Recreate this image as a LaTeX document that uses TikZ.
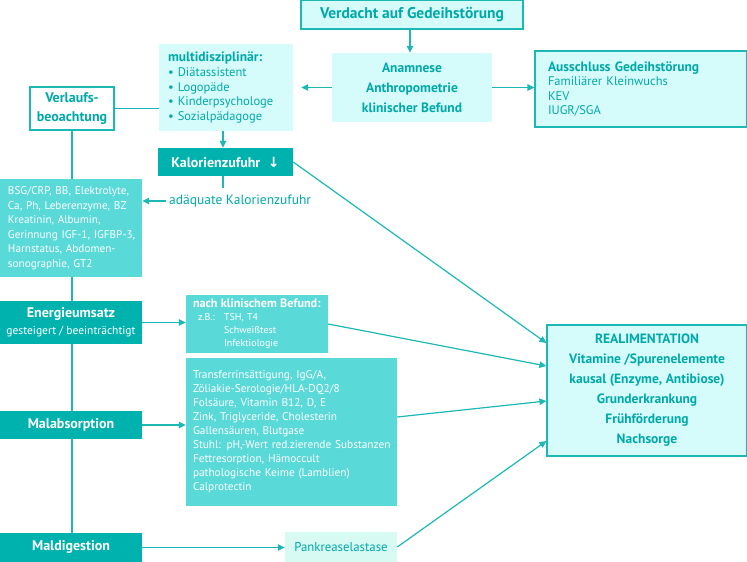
\documentclass[tikz,border=0pt]{standalone}
\usepackage{amsmath,amssymb}
\usepackage{fontspec}
\setmainfont{PT Sans}
\newfontfamily\pfeilschrift{DejaVu Sans}
\usetikzlibrary{arrows.meta,calc,positioning}

\definecolor{dunkel}{HTML}{00B2AE}
\definecolor{mittel}{HTML}{5AD9D9}
\definecolor{hell}{HTML}{D6FBFB}
\definecolor{mint}{HTML}{D7FAF2}
\definecolor{tuerkis}{HTML}{1BB8B6}
\definecolor{schrift}{HTML}{00A9A9}

\begin{document}
\begin{tikzpicture}[x=1pt,y=-1pt,
    linie/.style={draw=tuerkis, line width=1.2pt},
    pfeil/.style={linie, -{Triangle[length=7pt,width=6.5pt]}},
    kasten/.style={inner ysep=0pt, inner xsep=0pt, align=center},
    hellkasten/.style={kasten, fill=hell, text=schrift},
    hellrand/.style={hellkasten, draw=tuerkis, line width=1.2pt},
    mittelkasten/.style={kasten, fill=mittel, text=white, align=left},
    dunkelkasten/.style={kasten, fill=dunkel, text=white}]

  \useasboundingbox (0,0) rectangle (747,562);

  \node[hellrand, minimum width=222, minimum height=29, font=\bfseries\fontsize{15.5}{17}\selectfont]
    (verdacht) at (412,14.5) {Verdacht auf Gedeihstörung};
  \node[hellkasten, minimum width=160, minimum height=69, font=\bfseries\fontsize{13.5}{20}\selectfont]
    (anamnese) at (412,87.5) {Anamnese\\Anthropometrie\\klinischer Befund};
  \node[hellrand, minimum width=212, minimum height=76, text width=198, inner xsep=7, align=left,
    font=\fontsize{12.5}{14.5}\selectfont]
    (ausschluss) at (641,89) {\hspace*{6pt}{\bfseries\fontsize{13.5}{14.5}\selectfont Ausschluss Gedeihstörung}\\\hspace*{6pt}Familiärer Kleinwuchs\\\hspace*{6pt}KEV\\\hspace*{6pt}IUGR/SGA};
  \node[hellkasten, minimum width=134, minimum height=87, text width=134, align=left,
    font=\fontsize{12.5}{14.8}\selectfont]
    (multi) at (226,87.5) {\hspace*{9pt}{\bfseries\fontsize{13.5}{16}\selectfont multidisziplinär:}\\\hspace*{9pt}• Diätassistent\\\hspace*{9pt}• Logopäde\\\hspace*{9pt}• Kinderpsychologe\\\hspace*{9pt}• Sozialpädagoge};
  \node[kasten, fill=white, draw=tuerkis, line width=1.2pt, text=schrift, minimum width=84, minimum height=43,
    font=\bfseries\fontsize{14}{19}\selectfont]
    (verlauf) at (72,108.5) {Verlaufs-\\beoachtung};
  \node[dunkelkasten, minimum width=135, minimum height=28, font=\bfseries\fontsize{14}{15}\selectfont]
    (kalorien) at (225.5,162) {Kalorienzufuhr\; {\pfeilschrift\bfseries ↓}};

  \node[mittelkasten, minimum width=142, minimum height=98, text width=142,
    font=\fontsize{11.2}{14.5}\selectfont]
    (bsg) at (71,228) {\hspace*{8pt}BSG/CRP, BB, Elektrolyte,\\\hspace*{8pt}Ca, Ph, Leberenzyme, BZ\\\hspace*{8pt}Kreatinin, Albumin,\\\hspace*{8pt}Gerinnung IGF-1, IGFBP-3,\\\hspace*{8pt}Harnstatus, Abdomen-\\\hspace*{8pt}sonographie, GT2};
  \node[anchor=west, inner sep=3pt, text=schrift, font=\fontsize{13.5}{15}\selectfont]
    (adaequat) at (166,201) {adäquate Kalorienzufuhr};

  \node[dunkelkasten, minimum width=142, minimum height=43, font=\fontsize{11.5}{17}\selectfont]
    (energie) at (71,322.5) {{\bfseries\fontsize{14}{17}\selectfont Energieumsatz}\\gesteigert / beeinträchtigt};
  \node[mittelkasten, minimum width=142, minimum height=58, text width=142,
    font=\fontsize{10}{13}\selectfont]
    (klinisch) at (257,324) {\hspace*{7pt}{\bfseries\fontsize{12.2}{13}\selectfont nach klinischem Befund:}\\
      \hspace*{12pt}\makebox[26pt][l]{z.B.:}TSH, T4\\\hspace*{38pt}Schweißtest\\\hspace*{38pt}Infektiologie};
  \node[mittelkasten, minimum width=211, minimum height=148, text width=211,
    font=\fontsize{11.3}{14}\selectfont]
    (transferrin) at (291.5,432) {\hspace*{7pt}Transferrinsättigung, IgG/A,\\\hspace*{7pt}Zöliakie-Serologie/HLA-DQ2/8\\\hspace*{7pt}Folsäure, Vitamin B12, D, E\\\hspace*{7pt}Zink, Triglyceride, Cholesterin\\\hspace*{7pt}Gallensäuren, Blutgase\\\hspace*{7pt}Stuhl: pH,-Wert red.zierende Substanzen\\\hspace*{7pt}Fettresorption, Hämoccult\\\hspace*{7pt}pathologische Keime (Lamblien)\\\hspace*{7pt}Calprotectin};
  \node[dunkelkasten, minimum width=142, minimum height=28, font=\bfseries\fontsize{14}{15}\selectfont]
    (malabs) at (71,425) {Malabsorption};
  \node[dunkelkasten, minimum width=142, minimum height=29, font=\bfseries\fontsize{14}{15}\selectfont]
    (maldig) at (71,547.5) {Maldigestion};
  \node[kasten, fill=mint, text=schrift, minimum width=112, minimum height=30, font=\fontsize{12.8}{14}\selectfont]
    (pankreas) at (341,547) {Pankreaselastase};
  \node[hellrand, minimum width=200, minimum height=131, font=\bfseries\fontsize{13.5}{20}\selectfont]
    (real) at (647,390.5) {REALIMENTATION\\Vitamine /Spurenelemente\\kausal (Enzyme, Antibiose)\\Grunderkrankung\\Frühförderung\\Nachsorge};

  \draw[pfeil] (verdacht.south -| 410,0) -- (anamnese.north -| 410,0);
  \draw[pfeil, shorten >=8pt] (anamnese.west) -- (anamnese.west -| multi.east);
  \draw[pfeil] (anamnese.east) -- (anamnese.east -| ausschluss.west);
  \draw[linie] (verlauf.east) -- (verlauf.east -| multi.west);
  \draw[pfeil] (multi.south -| 223,0) -- (kalorien.north -| 223,0);
  \draw[linie] (kalorien.south -| 223,0) -- ++(0,12);
  \draw[pfeil] (adaequat.west) -- (adaequat.west -| bsg.east);
  \foreach \oben/\unten in {verlauf/bsg,bsg/energie,energie/malabs,malabs/maldig}
    \draw[linie] (\oben.south -| 72,0) -- (\unten.north -| 72,0);
  \draw[pfeil] (energie.east) -- (energie.east -| klinisch.west);
  \draw[pfeil] (malabs.east) -- (malabs.east -| transferrin.west);
  \draw[pfeil] (maldig.east) -- (maldig.east -| pankreas.west);
  \foreach \von/\dy in {kalorien.east/47.5,klinisch.east/24.5,pankreas.east/-50.5}
    \draw[pfeil] (\von) -- ([yshift=\dy pt]real.west);
  \draw[pfeil] ([yshift=15pt]transferrin.east) -- ([yshift=-10.5pt]real.west);
\end{tikzpicture}
\end{document}
